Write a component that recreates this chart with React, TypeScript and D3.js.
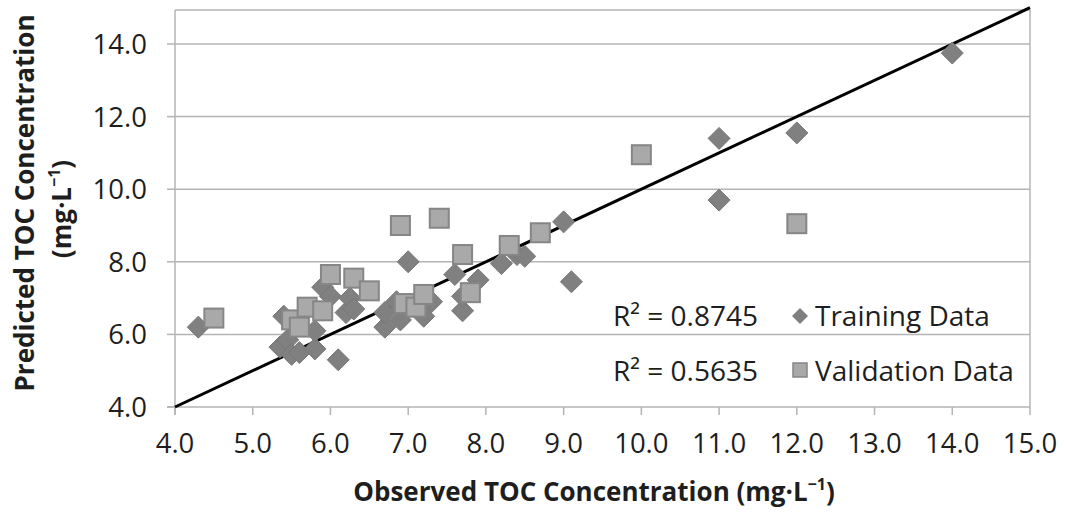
import React from "react";
import * as d3 from "d3";

const trainingData: [number, number][] = [
  [4.3, 6.2], [5.35, 5.65], [5.4, 6.5], [5.45, 5.85], [5.5, 5.45], [5.6, 5.5],
  [5.8, 5.6], [5.8, 6.1], [5.9, 7.3], [6.0, 7.05], [6.1, 5.3], [6.2, 6.6],
  [6.25, 7.0], [6.3, 6.7], [6.7, 6.2], [6.7, 6.6], [6.85, 6.9], [6.9, 6.4],
  [7.0, 8.0], [7.2, 6.5], [7.3, 6.9], [7.6, 7.65], [7.7, 6.65], [7.7, 7.05],
  [7.9, 7.5], [8.2, 7.95], [8.4, 8.2], [8.5, 8.15], [9.0, 9.1], [9.1, 7.45],
  [11.0, 11.4], [11.0, 9.7], [12.0, 11.55], [14.0, 13.75],
];

const validationData: [number, number][] = [
  [4.5, 6.45], [5.5, 6.4], [5.6, 6.2], [5.7, 6.75], [5.9, 6.65], [6.0, 7.65],
  [6.3, 7.55], [6.5, 7.2], [6.9, 9.0], [6.95, 6.85], [7.1, 6.75], [7.2, 7.1],
  [7.4, 9.2], [7.7, 8.2], [7.8, 7.15], [8.3, 8.45], [8.7, 8.8], [10.0, 10.95],
  [12.0, 9.05],
];

const xTicks = [4, 5, 6, 7, 8, 9, 10, 11, 12, 13, 14, 15];
const yTicks = [4, 6, 8, 10, 12, 14];
const lineEnds = [4, 15];
const r2Training = "0.8745";
const r2Validation = "0.5635";

const W = 1065;
const H = 513;
const left = 175;
const right = 1030;
const top = 10;
const bottom = 407;

export default function App() {
  const x = d3.scaleLinear().domain([4, 15]).range([left, right]);
  const y = d3.scaleLinear().domain([4, 15]).range([bottom, 7.7]);
  const font = "'Open Sans', Calibri, sans-serif";
  const gridColor = "#b4b4b4";
  const diamondFill = "#808080";
  const squareFill = "#a9a9a9";
  const squareStroke = "#868686";
  const textColor = "#1e1e1e";
  const lineGen = d3.line<number>().x((d) => x(d)).y((d) => y(d));
  const diamond = (cx: number, cy: number, r: number) =>
    `M${cx},${cy - r}L${cx + r},${cy}L${cx},${cy + r}L${cx - r},${cy}Z`;

  return (
    <svg
      width={W}
      height={H}
      style={{ position: "absolute", left: 0, top: 0, background: "#fff" }}
      fontFamily={font}
    >
      <rect x={0} y={0} width={W} height={H} fill="#fff" />
      {/* gridlines */}
      {yTicks.filter((t) => t > 4).map((t) => (
        <line key={t} x1={left} x2={right} y1={y(t)} y2={y(t)} stroke={gridColor} strokeWidth={1.5} />
      ))}
      <line x1={left} x2={right} y1={top} y2={top} stroke={gridColor} strokeWidth={1.5} />
      <line x1={right} x2={right} y1={top} y2={bottom} stroke={gridColor} strokeWidth={1.5} />
      {/* axes */}
      <line x1={left} x2={left} y1={top} y2={bottom + 8} stroke={gridColor} strokeWidth={1.5} />
      <line x1={left - 8} x2={right} y1={bottom} y2={bottom} stroke={gridColor} strokeWidth={1.5} />
      {xTicks.map((t) => (
        <g key={"xt" + t}>
          <line x1={x(t)} x2={x(t)} y1={bottom} y2={bottom + 8} stroke={gridColor} strokeWidth={1.5} />
          <text x={x(t)} y={bottom + 46} textAnchor="middle" fontSize={27.5} fill={textColor}>
            {t.toFixed(1)}
          </text>
        </g>
      ))}
      {yTicks.map((t) => (
        <g key={"yt" + t}>
          <line x1={left - 8} x2={left} y1={y(t)} y2={y(t)} stroke={gridColor} strokeWidth={1.5} />
          <text x={147} y={y(t) + 10} textAnchor="end" fontSize={27.5} fill={textColor}>
            {t.toFixed(1)}
          </text>
        </g>
      ))}
      {/* 1:1 line */}
      <path d={lineGen(lineEnds) || ""} stroke="#000" strokeWidth={3} fill="none" />
      {/* training diamonds */}
      {trainingData.map(([a, b], i) => (
        <path key={"d" + i} d={diamond(x(a), y(b), 11)} fill={diamondFill} stroke="#777" strokeWidth={1} />
      ))}
      {/* validation squares */}
      {validationData.map(([a, b], i) => (
        <rect
          key={"s" + i}
          x={x(a) - 9.5}
          y={y(b) - 9.5}
          width={19}
          height={19}
          fill={squareFill}
          stroke={squareStroke}
          strokeWidth={2}
        />
      ))}
      {/* legend */}
      <text x={613} y={326} fontSize={28} fill={textColor}>
        R² = {r2Training}
      </text>
      <path d={diamond(800, 316, 8)} fill={diamondFill} />
      <text x={815} y={326} fontSize={28} fill={textColor}>Training Data</text>
      <text x={613} y={381} fontSize={28} fill={textColor}>
        R² = {r2Validation}
      </text>
      <rect x={793} y={363} width={14} height={14} fill={squareFill} stroke={squareStroke} strokeWidth={1.5} />
      <text x={815} y={381} fontSize={28} fill={textColor}>Validation Data</text>
      {/* axis titles */}
      <text x={594} y={501} textAnchor="middle" fontSize={26} fontWeight="bold" fill={textColor}>
        Observed TOC Concentration (mg·L
        <tspan fontSize={16} dy={-11}>−1</tspan>
        <tspan dy={11}>)</tspan>
      </text>
      <g transform="translate(34,203) rotate(-90)">
        <text x={0} y={0} textAnchor="middle" fontSize={26} fontWeight="bold" fill={textColor}>
          Predicted TOC Concentration
        </text>
      </g>
      <g transform="translate(71,209) rotate(-90)">
        <text x={0} y={0} textAnchor="middle" fontSize={26} fontWeight="bold" fill={textColor}>
          (mg·L<tspan fontSize={16} dy={-11}>−1</tspan>
          <tspan dy={11}>)</tspan>
        </text>
      </g>
    </svg>
  );
}
